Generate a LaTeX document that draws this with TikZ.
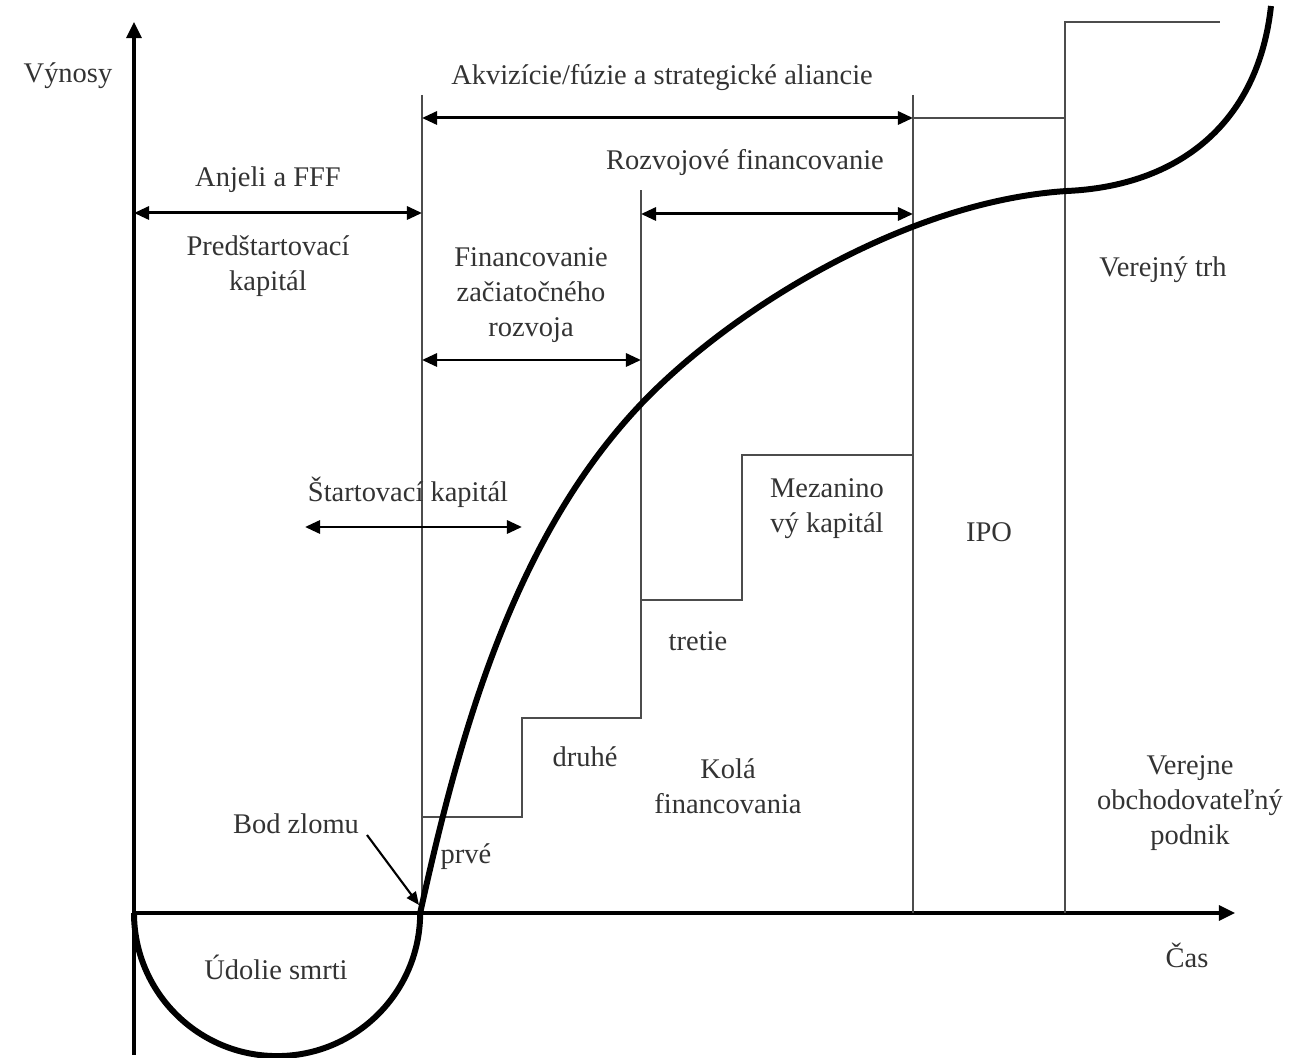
\documentclass[tikz,border=0pt]{standalone}
\usepackage{fontspec}
\setmainfont{Liberation Serif}
\usetikzlibrary{arrows.meta}

\tikzset{
  lbl/.style={font=\fontsize{8.1}{10}\selectfont, text=black!80, align=center, inner sep=0pt},
  axis/.style={line width=0.9pt, -{Triangle[length=1.6mm,width=1.5mm]}},
  span/.style={line width=0.85pt, {Triangle[length=1.5mm,width=1.3mm]}-{Triangle[length=1.5mm,width=1.3mm]}},
  pointer/.style={line width=0.6pt, -{Triangle[length=1.3mm,width=1.1mm]}},
  rule/.style={line width=0.55pt, black!70},
  growth/.style={line width=1.7pt, line join=round}
}

\begin{document}
\begin{tikzpicture}[x=0.01cm, y=0.01cm]
\useasboundingbox (0,0) rectangle (1290,-1058);

% axes
\coordinate (O) at (134,-913);
\coordinate (ytop) at (134,-22);
\coordinate (ybot) at (134,-1055);
\coordinate (xend) at (1235,-913);
\draw [line width=0.9pt] (ybot) -- (O);
\draw [axis] (O) -- (ytop);
\draw [axis] (O) -- (xend);

% stage borders
\coordinate (a1) at (422,-95);
\coordinate (a2) at (422,-913);
\coordinate (b1) at (913,-95);
\coordinate (b2) at (913,-913);
\coordinate (c1) at (1065,-913);
\coordinate (c2) at (1065,-22);
\coordinate (c3) at (1220,-22);
\coordinate (d1) at (913,-118);
\coordinate (d2) at (1065,-118);
\draw [rule] (a1) -- (a2);
\draw [rule] (b1) -- (b2);
\draw [rule] (c1) -- (c2) -- (c3);
\draw [rule] (d1) -- (d2);

% rounds of financing (steps)
\coordinate (s1) at (422,-817);
\coordinate (s2) at (522,-817);
\coordinate (s3) at (522,-718);
\coordinate (s4) at (641,-718);
\coordinate (s5) at (641,-190);
\coordinate (t1) at (641,-600);
\coordinate (t2) at (742,-600);
\coordinate (t3) at (742,-455);
\coordinate (t4) at (913,-455);
\draw [rule] (s1) -- (s2) -- (s3) -- (s4) -- (s5);
\draw [rule] (t1) -- (t2) -- (t3) -- (t4);

% spans
\coordinate (anjL) at (134,-213);
\coordinate (anjR) at (422,-213);
\coordinate (akvL) at (422,-118);
\coordinate (akvR) at (913,-118);
\coordinate (rozL) at (641,-214);
\coordinate (rozR) at (913,-214);
\coordinate (zacL) at (422,-360);
\coordinate (zacR) at (641,-360);
\coordinate (staL) at (305,-527);
\coordinate (staR) at (522,-527);
\draw [span] (anjL) -- (anjR);
\draw [span] (akvL) -- (akvR);
\draw [span] (rozL) -- (rozR);
\draw [span] (zacL) -- (zacR);
\draw [span] (staL) -- (staR);

% revenue curve: valley, then growth
\coordinate (be) at (420,-913);
\coordinate (g1) at (642,-403);
\coordinate (g2) at (1067,-191);
\coordinate (g3) at (1271,-6);
\draw [growth] (O) arc [start angle=180, end angle=360, radius=1.43cm]
  .. controls (460,-732) and (514,-537) .. (g1)
  .. controls (732,-309) and (907,-201) .. (g2)
  .. controls (1177,-186) and (1258,-125) .. (g3);

% labels
\node [lbl] (vynosy) at (68,-76) {Výnosy};
\node [lbl] (anjeli) at (268,-180) {Anjeli a FFF};
\node [lbl] (predstart) at (268,-266) {Predštartovací\\kapitál};
\node [lbl] (akviz) at (662,-78) {Akvizície/fúzie a strategické aliancie};
\node [lbl] (rozvoj) at (745,-163) {Rozvojové financovanie};
\node [lbl] (zaciat) at (531,-295) {Financovanie\\začiatočného\\rozvoja};
\node [lbl] (vtrh) at (1163,-270) {Verejný trh};
\node [lbl] (startk) at (408,-492) {Štartovací kapitál};
\node [lbl] (mezan) at (827,-509) {Mezanino\\vý kapitál};
\node [lbl] (ipo) at (989,-532) {IPO};
\node [lbl] (tretie) at (698,-641) {tretie};
\node [lbl] (druhe) at (585,-757) {druhé};
\node [lbl] (kola) at (728,-786) {Kolá\\financovania};
\node [lbl] (verejne) at (1190,-803) {Verejne\\obchodovateľný\\podnik};
\node [lbl] (bod) at (296,-824) {Bod zlomu};
\node [lbl] (prve) at (466,-857) {prvé};
\node [lbl] (udolie) at (276,-967) {Údolie smrti};
\node [lbl] (cas) at (1187,-955) {Čas};

% break-even pointer
\coordinate (bodA) at (367,-835);
\coordinate (bodB) at (419,-905);
\draw [pointer] (bodA) -- (bodB);
\end{tikzpicture}
\end{document}
